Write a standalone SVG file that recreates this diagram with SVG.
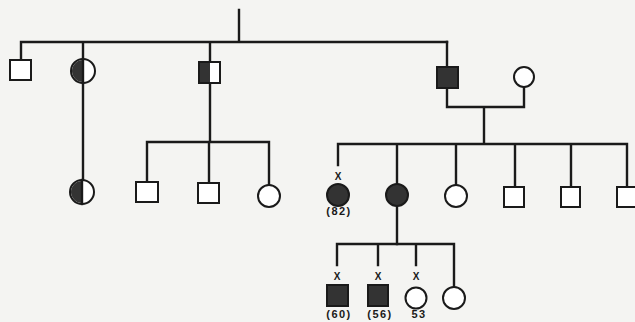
<svg xmlns="http://www.w3.org/2000/svg" width="635" height="322" viewBox="0 0 635 322">
<style>
.ln{stroke:#1a1a1a;stroke-width:2.4;fill:none;stroke-linecap:square}
.o{fill:#fff;stroke:#1a1a1a;stroke-width:2}
.f{fill:#333;stroke:#1a1a1a;stroke-width:2}
.h{fill:#333;stroke:none}
.t{font-family:"Liberation Sans",Arial,sans-serif;font-size:11px;font-weight:bold;fill:#1a1a1a;text-anchor:middle;letter-spacing:1.5px}
.x{font-family:"Liberation Sans",Arial,sans-serif;font-size:10px;font-weight:bold;fill:#1a1a1a;text-anchor:middle}
</style>
<rect width="635" height="322" fill="#f4f4f2"/>
<g id="connectors">
<path class="ln" d="M239 10V42M21 42H447M21 42V60M83 42V180M210 42V62M210 83V142M147 142H269M147 142V182M209 142V183M269 142V185"/>
<path class="ln" d="M447 42V67M447 88V107H524V87M484 107V144M338 144H627M338 144V165M397 144V244M456 144V185M515 144V187M571 144V187M627 144V187"/>
<path class="ln" d="M337 244H454M337 244V265M378 244V265M416 244V265M454 244V287"/>
</g>
<g id="n1"><rect class="o" x="10" y="60" width="21" height="20"/></g>
<g id="n2"><circle class="o" cx="83" cy="71" r="12"/><path class="h" d="M83 60A11 11 0 0 0 83 82Z"/><path class="ln" d="M83 59V83"/></g>
<g id="n3"><rect class="o" x="199" y="62" width="21" height="21"/><rect class="h" x="200" y="63" width="10" height="19"/></g>
<g id="n4"><rect class="f" x="437" y="67" width="21" height="21"/></g>
<g id="n5"><circle class="o" cx="524" cy="77" r="10"/></g>
<g id="n6"><circle class="o" cx="82" cy="192" r="12"/><path class="h" d="M82 181A11 11 0 0 0 82 203Z"/><path class="ln" d="M82 180V204"/></g>
<g id="n7"><rect class="o" x="136" y="182" width="22" height="20"/></g>
<g id="n8"><rect class="o" x="198" y="183" width="21" height="20"/></g>
<g id="n9"><circle class="o" cx="269" cy="196" r="11"/></g>
<g id="n10"><text class="x" x="338" y="180">X</text><circle class="f" cx="338" cy="195" r="11"/><text class="t" x="339" y="215">(82)</text></g>
<g id="n11"><circle class="f" cx="397" cy="195" r="11"/></g>
<g id="n12"><circle class="o" cx="456" cy="196" r="11"/></g>
<g id="n13"><rect class="o" x="504" y="187" width="20" height="20"/></g>
<g id="n14"><rect class="o" x="561" y="187" width="19" height="20"/></g>
<g id="n15"><rect class="o" x="617" y="187" width="21" height="20"/></g>
<g id="n16"><text class="x" x="337" y="280">X</text><rect class="f" x="327" y="285" width="21" height="21"/><text class="t" x="339" y="318">(60)</text></g>
<g id="n17"><text class="x" x="378" y="280">X</text><rect class="f" x="368" y="285" width="20" height="21"/><text class="t" x="380" y="318">(56)</text></g>
<g id="n18"><text class="x" x="416" y="280">X</text><circle class="o" cx="416" cy="298" r="10.5"/><text class="t" x="419" y="318">53</text></g>
<g id="n19"><circle class="o" cx="454" cy="298" r="11"/></g>
</svg>
